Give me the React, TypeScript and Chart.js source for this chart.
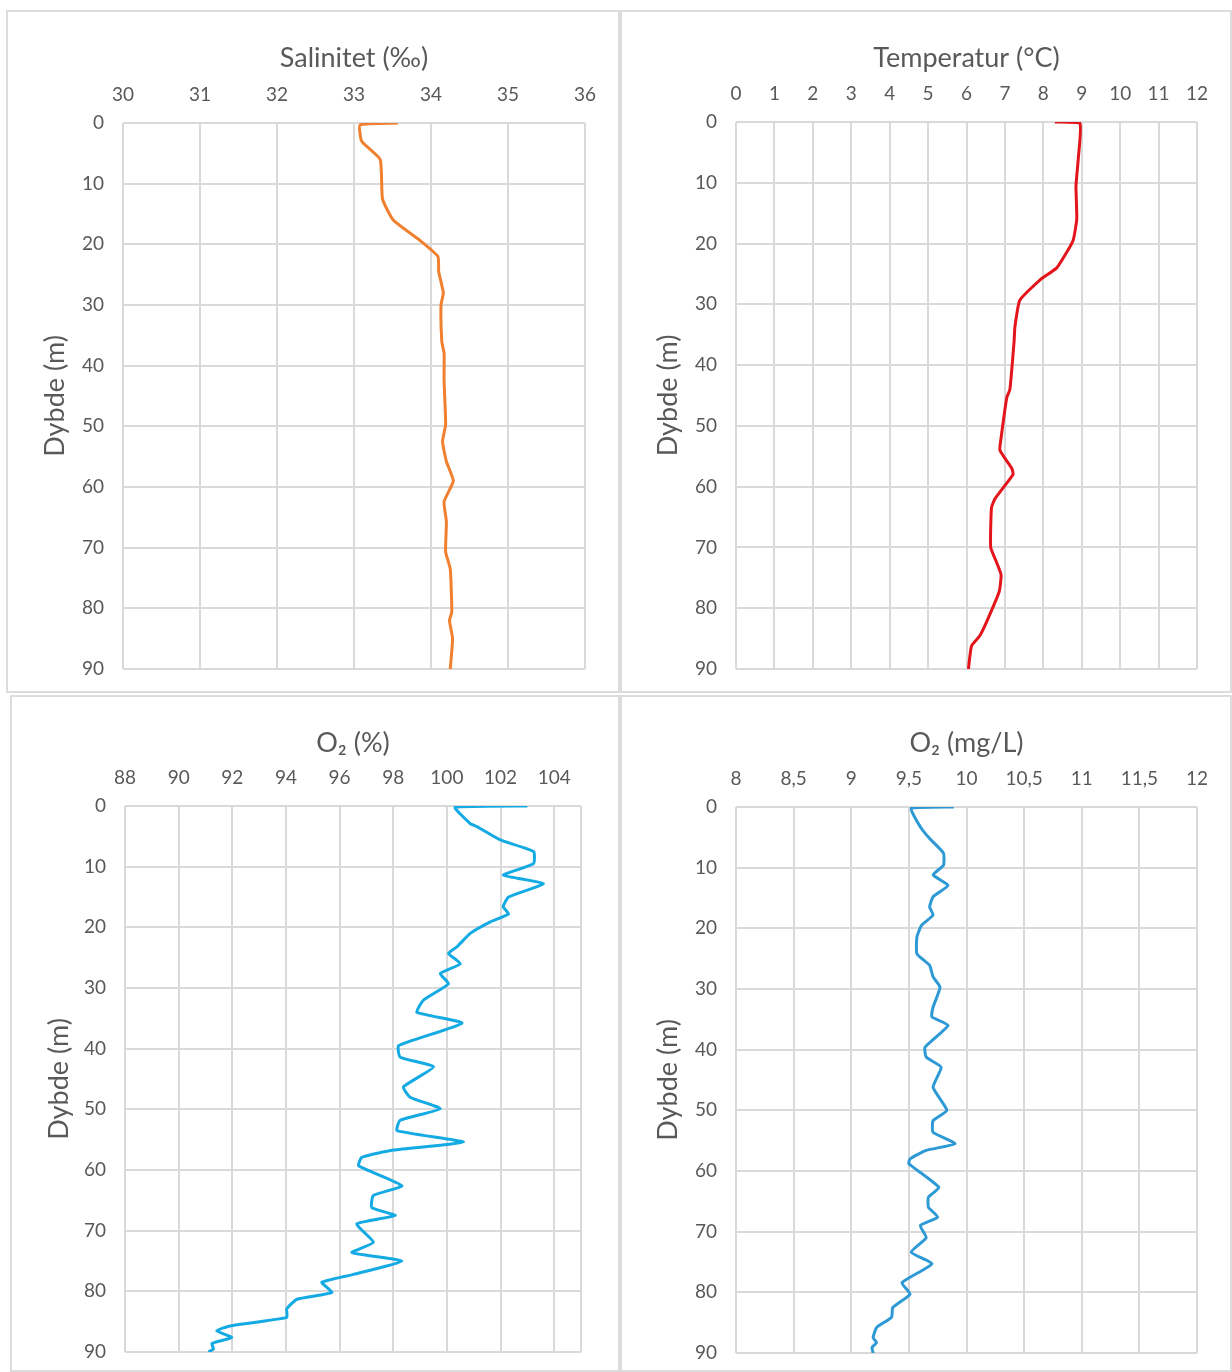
import React, { useEffect, useRef } from "react";
import { Chart, registerables } from "chart.js";

Chart.register(...registerables);

// ---------- DATA ----------
const depthTicks = [0, 10, 20, 30, 40, 50, 60, 70, 80, 90];

const salTicks = [30, 31, 32, 33, 34, 35, 36];
const salDepth = [0, 0.3, 3, 6, 12.5, 16, 19.4, 22, 24.5, 28, 30, 36, 38, 42.5, 49.7, 52.5, 55.8, 59, 62.4, 65.7, 70.7, 73.5, 80.6, 82, 85, 90];
const salValue = [33.57, 33.08, 33.1, 33.34, 33.37, 33.51, 33.86, 34.09, 34.1, 34.16, 34.13, 34.14, 34.17, 34.17, 34.19, 34.15, 34.2, 34.29, 34.17, 34.2, 34.19, 34.25, 34.27, 34.24, 34.28, 34.25];

const tempTicks = [0, 1, 2, 3, 4, 5, 6, 7, 8, 9, 10, 11, 12];
const tempDepth = [0, 0.2, 6, 10.5, 16, 19.4, 21, 24, 26, 29.3, 33.7, 36, 44, 45.3, 52, 54, 57, 58, 62, 63.5, 70, 72.4, 74.5, 77.3, 82.3, 84.5, 86.2, 90];
const tempValue = [8.3, 8.95, 8.91, 8.85, 8.87, 8.78, 8.65, 8.35, 7.91, 7.39, 7.26, 7.24, 7.13, 7.05, 6.9, 6.87, 7.18, 7.21, 6.74, 6.65, 6.63, 6.78, 6.9, 6.85, 6.52, 6.35, 6.13, 6.05];

const o2pTicks = [88, 90, 92, 94, 96, 98, 100, 102, 104];
const o2pAxisMax = 105;
const o2pDepth = [0, 0.2, 2.9, 3.4, 5.6, 7.5, 9.5, 11.4, 12.8, 15, 16.6, 17.8, 19.1, 21, 23.2, 24.3, 26, 27.6, 29.3, 32, 34, 35.8, 39.5, 41.4, 43, 46.3, 48, 49.9, 51.8, 53.5, 55.4, 56.7, 57.9, 59.3, 62.6, 64.2, 66.2, 67.5, 68.9, 71.9, 73.6, 75, 77.2, 78.5, 80.2, 81.3, 82.9, 84.3, 85.7, 86.5, 87.6, 88.6, 89.5, 90];
const o2pValue = [103.0, 100.31, 100.87, 101.12, 101.99, 103.23, 103.23, 102.11, 103.6, 102.3, 102.1, 102.3, 101.62, 100.87, 100.38, 100.06, 100.5, 99.75, 100.06, 99.13, 98.88, 100.56, 98.2, 98.26, 99.5, 98.38, 98.63, 99.75, 98.26, 98.14, 100.62, 98.01, 96.83, 96.71, 98.32, 97.26, 97.2, 98.07, 96.64, 97.26, 96.46, 98.32, 96.52, 95.34, 95.71, 94.41, 94.03, 94.03, 91.92, 91.42, 91.98, 91.24, 91.3, 91.11];

const o2mTicks = [8, 8.5, 9, 9.5, 10, 10.5, 11, 11.5, 12];
const o2mDepth = [0, 0.2, 3.3, 5.2, 7.6, 9.6, 11.2, 12.9, 14.8, 16.5, 17.8, 19.5, 21.4, 24.2, 26.1, 28, 29.7, 33, 34.6, 36, 39.6, 41.2, 42.9, 46.2, 50, 51.7, 53.6, 55.5, 56.6, 58, 58.8, 62.7, 64.3, 66, 67.6, 69, 71, 73.4, 75.3, 78.4, 80.3, 82.5, 84.1, 85.8, 87.5, 88.3, 89.1, 90];
const o2mValue = [9.89, 9.52, 9.6, 9.68, 9.8, 9.8, 9.71, 9.84, 9.71, 9.68, 9.71, 9.61, 9.57, 9.57, 9.68, 9.71, 9.77, 9.71, 9.7, 9.84, 9.64, 9.65, 9.78, 9.71, 9.83, 9.71, 9.71, 9.9, 9.65, 9.51, 9.5, 9.76, 9.67, 9.67, 9.75, 9.6, 9.65, 9.52, 9.7, 9.44, 9.51, 9.36, 9.35, 9.22, 9.19, 9.22, 9.18, 9.19];

// ---------- STYLE ----------
const FONT = "Lato, 'Open Sans', sans-serif";
const TEXT = "#595959";
const GRID = "#d9d9d9";
const CLEAR = "rgba(0,0,0,0)";

type PanelProps = {
  left: number; top: number; width: number; height: number;
  padL: number; padR: number; padT: number; padB: number;
  title: string; yTitleX: number;
  ticks: number[]; axisMax?: number;
  depth: number[]; values: number[]; color: string;
  comma?: boolean;
};

function Panel(p: PanelProps) {
  const ref = useRef<HTMLCanvasElement>(null);
  useEffect(() => {
    const ctx = ref.current;
    if (!ctx) return;
    const tickLabelSize = 19;
    const titleSize = 27;
    const xmin = p.ticks[0];
    const xmax = p.axisMax ?? p.ticks[p.ticks.length - 1];
    const xTickValues = p.axisMax !== undefined ? [...p.ticks, p.axisMax] : [...p.ticks];
    const chart = new Chart(ctx, {
      type: "scatter",
      data: {
        datasets: [
          {
            data: p.depth.map((d, i) => ({ x: p.values[i], y: d })),
            showLine: true,
            borderColor: p.color,
            backgroundColor: p.color,
            borderWidth: 3,
            pointRadius: 0,
            tension: 0.15,
          },
        ],
      },
      options: {
        responsive: false,
        animation: false,
        layout: { padding: { left: 0, right: p.padR, top: 0, bottom: p.padB } },
        plugins: { legend: { display: false }, tooltip: { enabled: false }, title: { display: false } },
        scales: {
          x: {
            type: "linear",
            position: "top",
            min: xmin,
            max: xmax,
            afterBuildTicks: (s: any) => { s.ticks = xTickValues.map((v) => ({ value: v })); },
            ticks: {
              padding: 0,
              maxRotation: 0,
              autoSkip: false,
              color: TEXT,
              font: { family: FONT, size: tickLabelSize },
              callback: (v: any) => {
                const n = Number(v);
                if (!p.ticks.some((t) => Math.abs(t - n) < 1e-6)) return "";
                return p.comma ? String(n).replace(".", ",") : String(n);
              },
            },
            grid: { color: GRID, lineWidth: 2, drawTicks: true, tickLength: 17, tickColor: CLEAR },
            border: { display: false },
            title: {
              display: true,
              text: p.title,
              color: TEXT,
              font: { family: FONT, size: titleSize },
              padding: { top: 48 - (titleSize * 1.2) / 2, bottom: 0 },
            },
            afterFit: (s: any) => { s.height = p.padT; },
          },
          y: {
            type: "linear",
            reverse: true,
            min: 0,
            max: 90,
            afterBuildTicks: (s: any) => { s.ticks = depthTicks.map((v) => ({ value: v })); },
            ticks: {
              padding: 0,
              color: TEXT,
              font: { family: FONT, size: tickLabelSize },
            },
            grid: { color: GRID, lineWidth: 2, drawTicks: true, tickLength: 19, tickColor: CLEAR },
            border: { display: false },
            title: {
              display: true,
              text: "Dybde (m)",
              color: TEXT,
              font: { family: FONT, size: titleSize },
              padding: { top: p.yTitleX - (titleSize * 1.2) / 2, bottom: 0 },
            },
            afterFit: (s: any) => { s.width = p.padL; },
          },
        },
      },
    } as any);
    return () => chart.destroy();
  }, []);
  return (
    <>
      <canvas
        ref={ref}
        width={p.width}
        height={p.height}
        style={{ position: "absolute", left: p.left, top: p.top, width: p.width, height: p.height }}
      />
      <div
        style={{
          position: "absolute",
          left: p.left,
          top: p.top,
          width: p.width,
          height: p.height,
          boxSizing: "border-box",
          border: "2px solid #dcdcdc",
          pointerEvents: "none",
        }}
      />
    </>
  );
}

export default function App() {
  return (
    <div style={{ position: "absolute", left: 0, top: 0, width: 1232, height: 1372, overflow: "hidden", background: "#fff" }}>
      <Panel left={6} top={10} width={614} height={683} padL={117} padR={35} padT={113} padB={24}
        title="Salinitet (‰)" yTitleX={49} ticks={salTicks}
        depth={salDepth} values={salValue} color="#F0802F" />
      <Panel left={620} top={10} width={612} height={683} padL={116} padR={35} padT={112} padB={24}
        title="Temperatur (°C)" yTitleX={48} ticks={tempTicks}
        depth={tempDepth} values={tempValue} color="#E4141B" />
      <Panel left={10} top={695} width={610} height={677} padL={115} padR={39} padT={111} padB={20}
        title="O₂ (%)" yTitleX={49} ticks={o2pTicks} axisMax={o2pAxisMax}
        depth={o2pDepth} values={o2pValue} color="#14AAE3" />
      <Panel left={620} top={695} width={612} height={677} padL={116} padR={35} padT={112} padB={19}
        title="O₂ (mg/L)" yTitleX={48} ticks={o2mTicks}
        depth={o2mDepth} values={o2mValue} color="#2D9AD5" comma />
    </div>
  );
}
